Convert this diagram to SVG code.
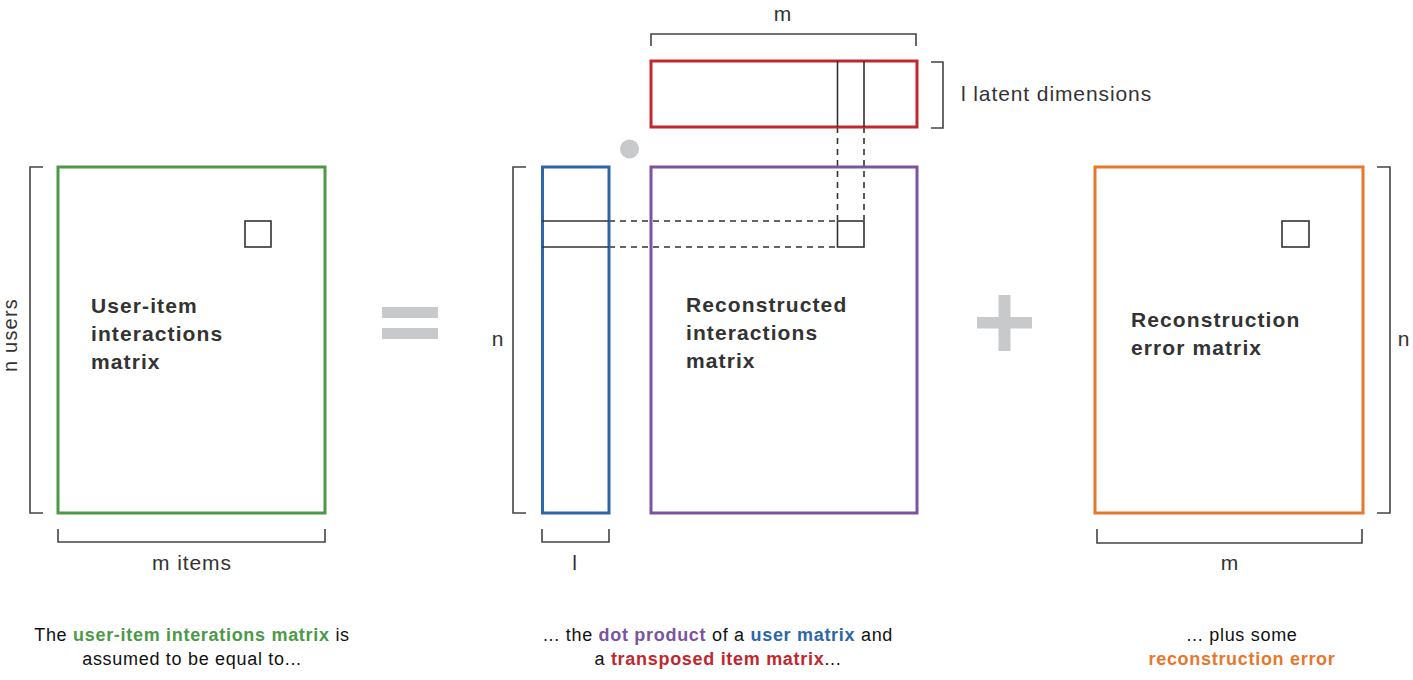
<svg xmlns="http://www.w3.org/2000/svg" width="1413" height="680" viewBox="0 0 1413 680">
<style>
.bg{fill:#fff}
.m{fill:none;stroke-width:3}
.cell{fill:none;stroke:#333;stroke-width:1.6}
.br{fill:none;stroke:#444;stroke-width:1.6}
.dash{fill:none;stroke:#333;stroke-width:1.6;stroke-dasharray:6 5}
.op{fill:#c8c9cb}
.lbl{font-family:"Liberation Sans",Arial,sans-serif;font-weight:bold;font-size:21px;letter-spacing:1.1px;fill:#333}
.dim{font-family:"Liberation Sans",Arial,sans-serif;font-size:21px;letter-spacing:0.9px;fill:#333}
.cap{font-family:"Liberation Sans",Arial,sans-serif;font-size:18px;letter-spacing:0.7px;fill:#111;text-anchor:middle}
.b{font-weight:bold}
</style>
<rect class="bg" width="1413" height="680"/>

<g id="connectors">
  <path class="dash" d="M609 221H837M609 247H837"/>
  <path class="dash" d="M837.5 127V220M864 127V220"/>
</g>

<g id="user-item-matrix">
  <rect class="m" x="58" y="167" width="267" height="346" stroke="#4a9a47"/>
  <rect class="cell" x="245" y="221" width="26" height="26"/>
  <path class="br" d="M43 167H30V513H43"/>
  <path class="br" d="M58 529V542H325V529"/>
  <text class="dim" transform="translate(17 335) rotate(-90)" text-anchor="middle" style="font-size:20px;letter-spacing:1.2px">n users</text>
  <text class="dim" x="192" y="570" text-anchor="middle">m items</text>
  <text class="lbl" x="91" y="313">User-item</text>
  <text class="lbl" x="91" y="341">interactions</text>
  <text class="lbl" x="91" y="369">matrix</text>
</g>

<g id="equals">
  <rect class="op" x="382" y="307" width="56" height="11"/>
  <rect class="op" x="382" y="328" width="56" height="11"/>
</g>

<g id="user-matrix">
  <rect class="m" x="542.5" y="167" width="66.5" height="346" stroke="#2e66a8"/>
  <path class="cell" d="M542 221H609M542 247H609"/>
  <path class="br" d="M526 167H513V513H526"/>
  <path class="br" d="M542 529V542H609V529"/>
  <text class="dim" x="498" y="346" text-anchor="middle">n</text>
  <text class="dim" x="575" y="570" text-anchor="middle">l</text>
</g>

<g id="dot">
  <circle cx="629.5" cy="149" r="9.5" fill="#c8c9cb"/>
</g>

<g id="item-matrix">
  <rect class="m" x="651" y="61" width="266" height="66" stroke="#c1272d"/>
  <path class="cell" d="M837.5 61V127M864 61V127"/>
  <path class="br" d="M651 46V34H916V46"/>
  <path class="br" d="M931 62H943V128H931"/>
  <text class="dim" x="783" y="21" text-anchor="middle">m</text>
  <text class="dim" x="961" y="101">l latent dimensions</text>
</g>

<g id="reconstructed-matrix">
  <rect class="m" x="651" y="167" width="266" height="346" stroke="#7b54a0"/>
  <rect class="cell" x="837.5" y="221" width="26.5" height="26"/>
  <text class="lbl" x="686" y="312">Reconstructed</text>
  <text class="lbl" x="686" y="340">interactions</text>
  <text class="lbl" x="686" y="368">matrix</text>
</g>

<g id="plus">
  <rect class="op" x="998.5" y="295" width="12" height="56"/>
  <rect class="op" x="977" y="317" width="55" height="11.5"/>
</g>

<g id="error-matrix">
  <rect class="m" x="1095" y="167" width="268" height="346" stroke="#e8772e"/>
  <rect class="cell" x="1282" y="221" width="27" height="26"/>
  <path class="br" d="M1377 167H1390V513H1377"/>
  <path class="br" d="M1097 529V543H1362V529"/>
  <text class="dim" x="1404" y="346" text-anchor="middle">n</text>
  <text class="dim" x="1230" y="570" text-anchor="middle">m</text>
  <text class="lbl" x="1131" y="327">Reconstruction</text>
  <text class="lbl" x="1131" y="355">error matrix</text>
</g>

<g id="captions">
  <text class="cap" x="192" y="641">The <tspan class="b" fill="#4a9a47">user-item interations matrix</tspan> is</text>
  <text class="cap" x="192" y="665">assumed to be equal to...</text>
  <text class="cap" x="718" y="641">... the <tspan class="b" fill="#7b54a0">dot product</tspan> of a <tspan class="b" fill="#2e66a8">user matrix</tspan> and</text>
  <text class="cap" x="718" y="665">a <tspan class="b" fill="#c1272d">transposed item matrix</tspan>...</text>
  <text class="cap" x="1242" y="641">... plus some</text>
  <text class="cap" x="1242" y="665"><tspan class="b" fill="#e8772e">reconstruction error</tspan></text>
</g>
</svg>
